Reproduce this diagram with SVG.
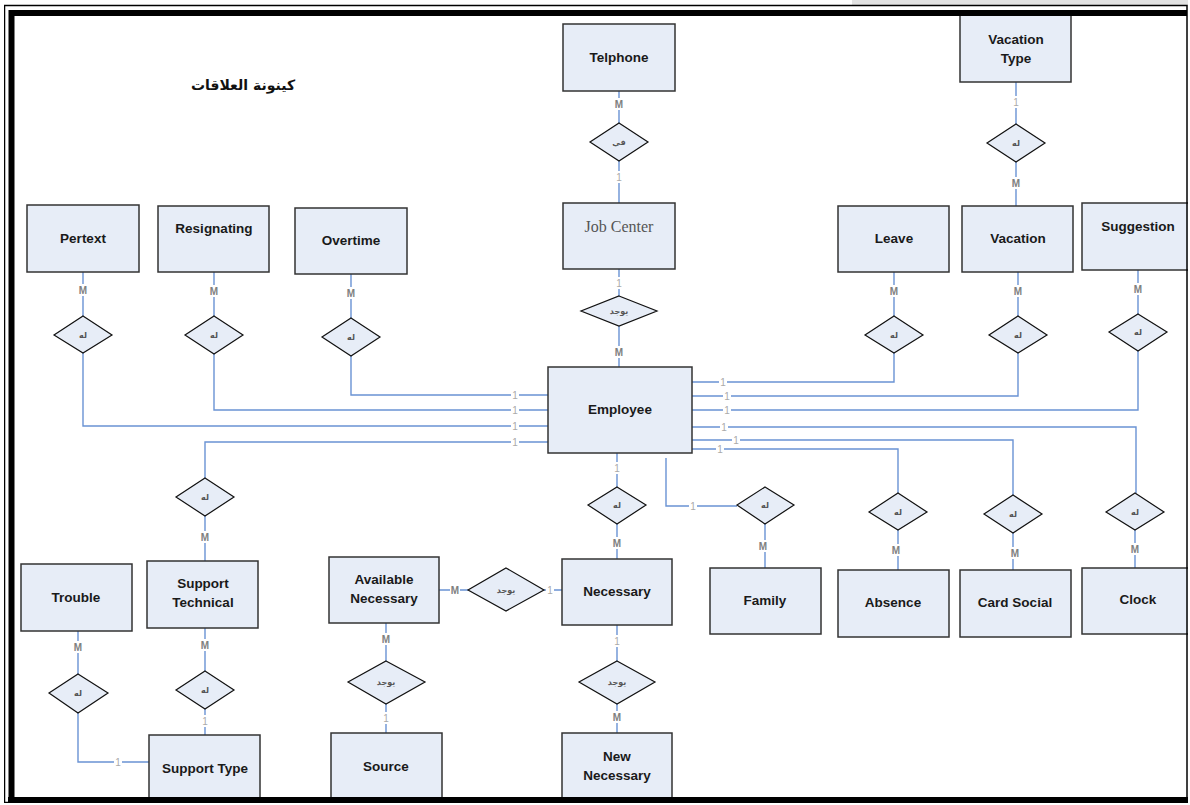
<svg xmlns="http://www.w3.org/2000/svg" width="1190" height="805" viewBox="0 0 1190 805">
<style>
.ent{fill:#e7edf7;stroke:#333;stroke-width:1.5}
.rel{fill:#e7edf7;stroke:#111;stroke-width:1.2}
.t{font-family:"Liberation Sans",Arial,sans-serif;font-size:13.5px;font-weight:bold;fill:#1a1a1a;text-anchor:middle}
.ts{font-family:"Liberation Serif","Times New Roman",serif;font-size:16px;fill:#555;text-anchor:middle}
.r{font-family:"DejaVu Sans",sans-serif;font-size:8px;font-weight:bold;fill:#555;text-anchor:middle}
.ln{fill:none;stroke:#6a93d4;stroke-width:1.4}
.lb{fill:#fff}
.m{font-family:"Liberation Sans",Arial,sans-serif;font-size:10px;font-weight:bold;fill:#808080;text-anchor:middle}
.o{font-family:"Liberation Sans",Arial,sans-serif;font-size:10px;fill:#aaa;text-anchor:middle}
.title{font-family:"DejaVu Sans",sans-serif;font-size:14px;font-weight:bold;fill:#111;text-anchor:middle}
</style>
<rect x="0" y="0" width="1190" height="805" fill="#fff"/>
<text class="title" x="243" y="90">كينونة العلاقات</text>

<g id="connectors">
<path class="ln" d="M619 91V123M619 161V203M619 269V296M619 326V367"/>
<path class="ln" d="M1016 82V124M1016 162V206"/>
<path class="ln" d="M83 272V316M214 272V316M351 274V318M894 272V316M1018 272V316M1138 270V314"/>
<path class="ln" d="M351 356V395H548M214 354V410H548M83 353V426H548M205 478V442H548"/>
<path class="ln" d="M894 353V382H692M1018 353V396H692M1138 351V410H692M1136 493V427H692M1013 495V440H692M898 493V449H692"/>
<path class="ln" d="M617 453V487M617 524V559M666 458V506H737M765 524V568M898 530V570M1013 533V570M1135 530V568"/>
<path class="ln" d="M205 516V561M205 628V671M205 709V735M78 631V674M78 713V762H149"/>
<path class="ln" d="M439 590H468M544 590H562M617 625V661M617 704V733M386 623V661M386 704V733"/>
<g>
<rect class="lb" x="614" y="98" width="10" height="12"/><text class="m" x="619" y="108">M</text>
<rect class="lb" x="614" y="171" width="10" height="12"/><text class="o" x="619" y="181">1</text>
<rect class="lb" x="614" y="277" width="10" height="12"/><text class="o" x="619" y="287">1</text>
<rect class="lb" x="614" y="346" width="10" height="12"/><text class="m" x="619" y="356">M</text>
<rect class="lb" x="1011" y="96" width="10" height="12"/><text class="o" x="1016" y="106">1</text>
<rect class="lb" x="1011" y="177" width="10" height="12"/><text class="m" x="1016" y="187">M</text>
<rect class="lb" x="78" y="284" width="10" height="12"/><text class="m" x="83" y="294">M</text>
<rect class="lb" x="209" y="285" width="10" height="12"/><text class="m" x="214" y="295">M</text>
<rect class="lb" x="346" y="287" width="10" height="12"/><text class="m" x="351" y="297">M</text>
<rect class="lb" x="889" y="285" width="10" height="12"/><text class="m" x="894" y="295">M</text>
<rect class="lb" x="1013" y="285" width="10" height="12"/><text class="m" x="1018" y="295">M</text>
<rect class="lb" x="1133" y="283" width="10" height="12"/><text class="m" x="1138" y="293">M</text>
<rect class="lb" x="511" y="389" width="8" height="12"/><text class="o" x="515" y="399">1</text>
<rect class="lb" x="511" y="404" width="8" height="12"/><text class="o" x="515" y="414">1</text>
<rect class="lb" x="511" y="420" width="8" height="12"/><text class="o" x="515" y="430">1</text>
<rect class="lb" x="511" y="436" width="8" height="12"/><text class="o" x="515" y="446">1</text>
<rect class="lb" x="719" y="376" width="8" height="12"/><text class="o" x="723" y="386">1</text>
<rect class="lb" x="723" y="390" width="8" height="12"/><text class="o" x="727" y="400">1</text>
<rect class="lb" x="723" y="404" width="8" height="12"/><text class="o" x="727" y="414">1</text>
<rect class="lb" x="720" y="421" width="8" height="12"/><text class="o" x="724" y="431">1</text>
<rect class="lb" x="732" y="434" width="8" height="12"/><text class="o" x="736" y="444">1</text>
<rect class="lb" x="716" y="443" width="8" height="12"/><text class="o" x="720" y="453">1</text>
<rect class="lb" x="612" y="462" width="10" height="12"/><text class="o" x="617" y="472">1</text>
<rect class="lb" x="612" y="537" width="10" height="12"/><text class="m" x="617" y="547">M</text>
<rect class="lb" x="689" y="500" width="8" height="12"/><text class="o" x="693" y="510">1</text>
<rect class="lb" x="758" y="540" width="10" height="12"/><text class="m" x="763" y="550">M</text>
<rect class="lb" x="891" y="544" width="10" height="12"/><text class="m" x="896" y="554">M</text>
<rect class="lb" x="1010" y="547" width="10" height="12"/><text class="m" x="1015" y="557">M</text>
<rect class="lb" x="1130" y="543" width="10" height="12"/><text class="m" x="1135" y="553">M</text>
<rect class="lb" x="200" y="531" width="10" height="12"/><text class="m" x="205" y="541">M</text>
<rect class="lb" x="200" y="639" width="10" height="12"/><text class="m" x="205" y="649">M</text>
<rect class="lb" x="200" y="715" width="10" height="12"/><text class="o" x="205" y="725">1</text>
<rect class="lb" x="73" y="641" width="10" height="12"/><text class="m" x="78" y="651">M</text>
<rect class="lb" x="114" y="756" width="8" height="12"/><text class="o" x="118" y="766">1</text>
<rect class="lb" x="450" y="584" width="10" height="12"/><text class="m" x="455" y="594">M</text>
<rect class="lb" x="546" y="584" width="8" height="12"/><text class="o" x="550" y="594">1</text>
<rect class="lb" x="612" y="635" width="10" height="12"/><text class="o" x="617" y="645">1</text>
<rect class="lb" x="612" y="711" width="10" height="12"/><text class="m" x="617" y="721">M</text>
<rect class="lb" x="381" y="633" width="10" height="12"/><text class="m" x="386" y="643">M</text>
<rect class="lb" x="381" y="712" width="10" height="12"/><text class="o" x="386" y="722">1</text>
</g>
</g>

<g id="n-telphone"><rect class="ent" x="563" y="24" width="112" height="67"/><text class="t" x="619" y="62">Telphone</text></g>
<g id="n-jobcenter"><rect class="ent" x="563" y="203" width="112" height="66"/><text class="ts" x="619" y="232">Job Center</text></g>
<g id="n-vacationtype"><rect class="ent" x="960" y="14" width="111" height="68"/><text class="t" x="1016" y="44">Vacation</text><text class="t" x="1016" y="63">Type</text></g>
<g id="n-pertext"><rect class="ent" x="27" y="205" width="112" height="67"/><text class="t" x="83" y="243">Pertext</text></g>
<g id="n-resignating"><rect class="ent" x="158" y="206" width="111" height="66"/><text class="t" x="214" y="233">Resignating</text></g>
<g id="n-overtime"><rect class="ent" x="295" y="208" width="112" height="66"/><text class="t" x="351" y="245">Overtime</text></g>
<g id="n-leave"><rect class="ent" x="838" y="206" width="111" height="66"/><text class="t" x="894" y="243">Leave</text></g>
<g id="n-vacation"><rect class="ent" x="962" y="206" width="111" height="66"/><text class="t" x="1018" y="243">Vacation</text></g>
<g id="n-suggestion"><rect class="ent" x="1082" y="203" width="112" height="67"/><text class="t" x="1138" y="231">Suggestion</text></g>
<g id="n-employee"><rect class="ent" x="548" y="367" width="144" height="86"/><text class="t" x="620" y="414">Employee</text></g>
<g id="n-necessary"><rect class="ent" x="562" y="559" width="110" height="66"/><text class="t" x="617" y="596">Necessary</text></g>
<g id="n-newnecessary"><rect class="ent" x="562" y="733" width="110" height="80"/><text class="t" x="617" y="761">New</text><text class="t" x="617" y="780">Necessary</text></g>
<g id="n-availablenecessary"><rect class="ent" x="329" y="557" width="110" height="66"/><text class="t" x="384" y="584">Available</text><text class="t" x="384" y="603">Necessary</text></g>
<g id="n-source"><rect class="ent" x="331" y="733" width="111" height="80"/><text class="t" x="386" y="771">Source</text></g>
<g id="n-trouble"><rect class="ent" x="21" y="564" width="111" height="67"/><text class="t" x="76" y="602">Trouble</text></g>
<g id="n-supporttechnical"><rect class="ent" x="147" y="561" width="111" height="67"/><text class="t" x="203" y="588">Support</text><text class="t" x="203" y="607">Technical</text></g>
<g id="n-supporttype"><rect class="ent" x="149" y="735" width="111" height="78"/><text class="t" x="205" y="773">Support Type</text></g>
<g id="n-family"><rect class="ent" x="710" y="568" width="111" height="66"/><text class="t" x="765" y="605">Family</text></g>
<g id="n-absence"><rect class="ent" x="838" y="570" width="111" height="67"/><text class="t" x="893" y="607">Absence</text></g>
<g id="n-cardsocial"><rect class="ent" x="960" y="570" width="111" height="67"/><text class="t" x="1015" y="607">Card Social</text></g>
<g id="n-clock"><rect class="ent" x="1082" y="568" width="112" height="66"/><text class="t" x="1138" y="604">Clock</text></g>

<g id="r-telphone"><polygon class="rel" points="619,123 648,142 619,161 590,142"/><text class="r" x="619" y="145">في</text></g>
<g id="r-jobcenter"><polygon class="rel" points="619,296 657,311 619,326 581,311"/><text class="r" x="619" y="314">يوجد</text></g>
<g id="r-vacationtype"><polygon class="rel" points="1016,124 1045,143 1016,162 987,143"/><text class="r" x="1016" y="146">له</text></g>
<g id="r-pertext"><polygon class="rel" points="83,316 112,335 83,353 54,335"/><text class="r" x="83" y="338">له</text></g>
<g id="r-resignating"><polygon class="rel" points="214,316 243,335 214,354 185,335"/><text class="r" x="214" y="338">له</text></g>
<g id="r-overtime"><polygon class="rel" points="351,318 380,337 351,356 322,337"/><text class="r" x="351" y="340">له</text></g>
<g id="r-leave"><polygon class="rel" points="894,316 923,335 894,353 865,335"/><text class="r" x="894" y="338">له</text></g>
<g id="r-vacation"><polygon class="rel" points="1018,316 1047,335 1018,353 989,335"/><text class="r" x="1018" y="338">له</text></g>
<g id="r-suggestion"><polygon class="rel" points="1138,314 1167,332 1138,351 1109,332"/><text class="r" x="1138" y="335">له</text></g>
<g id="r-necessary"><polygon class="rel" points="617,487 646,505 617,524 588,505"/><text class="r" x="617" y="508">له</text></g>
<g id="r-family"><polygon class="rel" points="765,487 794,505 765,524 737,505"/><text class="r" x="765" y="508">له</text></g>
<g id="r-absence"><polygon class="rel" points="898,493 927,512 898,530 869,512"/><text class="r" x="898" y="515">له</text></g>
<g id="r-cardsocial"><polygon class="rel" points="1013,495 1042,514 1013,533 984,514"/><text class="r" x="1013" y="517">له</text></g>
<g id="r-clock"><polygon class="rel" points="1135,493 1164,512 1135,530 1106,512"/><text class="r" x="1135" y="515">له</text></g>
<g id="r-supporttech1"><polygon class="rel" points="205,478 234,497 205,516 176,497"/><text class="r" x="205" y="500">له</text></g>
<g id="r-supporttech2"><polygon class="rel" points="205,671 234,690 205,709 176,690"/><text class="r" x="205" y="693">له</text></g>
<g id="r-trouble"><polygon class="rel" points="78,674 108,693 78,713 49,693"/><text class="r" x="78" y="696">له</text></g>
<g id="r-available"><polygon class="rel" points="506,568 544,590 506,611 468,590"/><text class="r" x="506" y="593">يوجد</text></g>
<g id="r-newnecessary"><polygon class="rel" points="617,661 655,682 617,704 579,682"/><text class="r" x="617" y="685">يوجد</text></g>
<g id="r-source"><polygon class="rel" points="386,661 425,682 386,704 348,682"/><text class="r" x="386" y="685">يوجد</text></g>

<g id="frame">
<rect x="852" y="0" width="338" height="6" fill="#e2e2e2"/>
<rect x="0" y="803" width="1190" height="2" fill="#fff"/>
<rect x="4.5" y="5.5" width="1182.5" height="797" fill="none" stroke="#000" stroke-width="1.5"/>
<rect x="0" y="0" width="4" height="805" fill="#fff"/>
<path d="M11.5 803V13H1187M8 800H1190" fill="none" stroke="#000" stroke-width="6"/>
<rect x="1188" y="0" width="2" height="805" fill="#fff"/>
<rect x="0" y="803" width="1190" height="2" fill="#fff"/>
</g>
</svg>
